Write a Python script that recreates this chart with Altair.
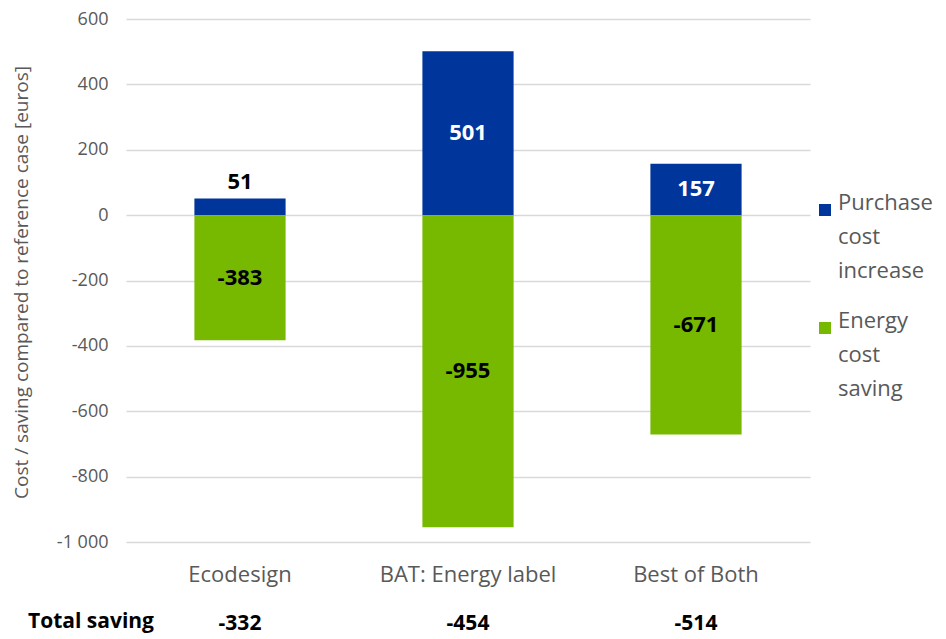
import altair as alt
import pandas as pd

categories = ["Ecodesign", "BAT: Energy label", "Best of Both"]
purchase_cost_increase = [51, 501, 157]
energy_cost_saving = [-383, -955, -671]
total_saving = [-332, -454, -514]
series_names = ["Purchase cost increase", "Energy cost saving"]
series_colors = ["#00359C", "#76B900"]
y_ticks = [600, 400, 200, 0, -200, -400, -600, -800, -1000]

rows = []
for c, p, e in zip(categories, purchase_cost_increase, energy_cost_saving):
    rows.append({"category": c, "series": series_names[0], "value": p})
    rows.append({"category": c, "series": series_names[1], "value": e})
df = pd.DataFrame(rows)
tot = pd.DataFrame({"category": categories, "total": total_saving})

FONT = "Open Sans"
GREY = "#595959"

xenc = alt.X("category:N", sort=categories,
             scale=alt.Scale(paddingInner=0.6, paddingOuter=0.3),
             axis=alt.Axis(title=None, domain=False, ticks=False, labelPadding=22,
                           labelFontSize=22, labelColor=GREY, labelFont=FONT,
                           labelAngle=0))
yscale = alt.Scale(domain=[-1000, 600], nice=False)

bars = alt.Chart(df).mark_bar().encode(
    x=xenc,
    y=alt.Y("value:Q", stack=None, scale=yscale,
            axis=alt.Axis(values=y_ticks, domain=False, ticks=False,
                          title="Cost / saving compared to reference case [euros]",
                          titleFontSize=19, titleFontWeight="normal", titleColor=GREY,
                          titleFont=FONT, titleX=-105, titleY=263, titleAngle=-90,
                          titleAlign="center", titleBaseline="middle",
                          labelFontSize=18, labelColor=GREY, labelFont=FONT, labelPadding=18,
                          labelExpr="datum.value == -1000 ? '-1 000' : toString(datum.value)",
                          gridColor="#d9d9d9", gridWidth=1.5)),
    color=alt.Color("series:N", sort=series_names,
                    scale=alt.Scale(domain=series_names, range=series_colors),
                    legend=alt.Legend(title=None, orient="none", legendX=688, legendY=180,
                                      symbolType="square", symbolSize=144, symbolStrokeWidth=0,
                                      labelFontSize=22, labelColor=GREY, labelFont=FONT,
                                      labelExpr="split(datum.label, ' ')",
                                      labelBaseline="alphabetic", rowPadding=28, labelOffset=2)),
)

inside = alt.Chart(df).transform_filter("abs(datum.value) >= 100").transform_calculate(
    mid="datum.value / 2", lbl="toString(datum.value)"
).mark_text(fontSize=22, fontWeight="bold", font=FONT).encode(
    x=alt.X("category:N", sort=categories),
    y=alt.Y("mid:Q", scale=yscale),
    text=alt.Text("lbl:N"),
    color=alt.condition(alt.datum.value > 0, alt.value("white"), alt.value("black")),
)

small = alt.Chart(df).transform_filter("abs(datum.value) < 100").transform_calculate(
    lbl="toString(datum.value)"
).mark_text(
    fontSize=22, fontWeight="bold", font=FONT, baseline="bottom", dy=-4, color="black"
).encode(
    x=alt.X("category:N", sort=categories),
    y=alt.Y("value:Q", scale=yscale),
    text=alt.Text("lbl:N"),
)

totals = alt.Chart(tot).transform_calculate(lbl="toString(datum.total)").mark_text(
    fontSize=21, fontWeight="bold", font=FONT, color="black", baseline="middle"
).encode(
    x=alt.X("category:N", sort=categories),
    y=alt.value(605),
    text=alt.Text("lbl:N"),
)

total_label = alt.Chart(pd.DataFrame({"t": ["Total saving"]})).mark_text(
    fontSize=21, fontWeight="bold", font=FONT, color="black", align="left", baseline="middle"
).encode(
    x=alt.value(-98),
    y=alt.value(603),
    text="t:N",
)

chart = alt.layer(bars, inside, small, totals, total_label).properties(
    width=684, height=523,
    autosize=alt.AutoSizeParams(type="none"),
    padding={"left": 118, "top": 11, "right": 128, "bottom": 96},
).configure(style={"guide-label": {"lineHeight": 34}}).configure_view(stroke=None)

chart.save("out.html", embed_options={"renderer": "svg", "actions": False})
